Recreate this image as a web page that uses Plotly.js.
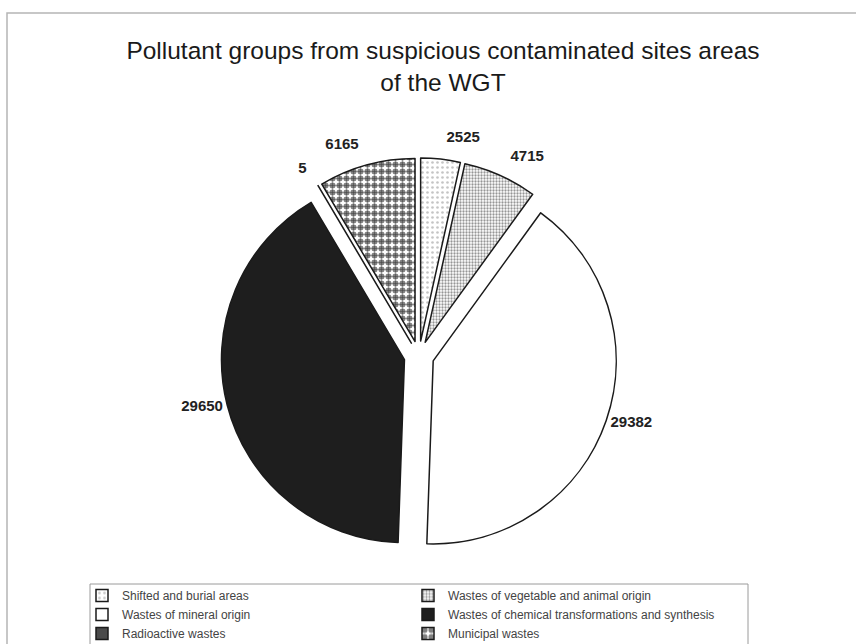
<!DOCTYPE html>
<html>
<head>
<meta charset="utf-8">
<script src="https://cdn.plot.ly/plotly-3.0.1.min.js"></script>
<style>
  html, body { margin: 0; padding: 0; background: #ffffff; overflow: hidden; }
  #chart { width: 856px; height: 680px; }
</style>
</head>
<body>
<div id="chart"></div>
<script>
// Pollutant groups (areas) of suspicious contaminated sites, WGT
const groups = [
  "Shifted and burial areas",
  "Wastes of vegetable and animal origin",
  "Wastes of mineral origin",
  "Wastes of chemical transformations and synthesis",
  "Radioactive wastes",
  "Municipal wastes"
];
const areas = [2525, 4715, 29382, 29650, 5, 6165];

// fill style per group: base colour and hatch pattern
const fillColors   = ["#ffffff", "#ffffff", "#ffffff", "#1e1e1e", "#4a4a4a", "#ffffff"];
const patternShape = [".", ".", "", "", "", "."];
const patternInk   = ["#8a8a8a", "#2e2e2e", "#000000", "#000000", "#000000", "#000000"];
const patternSize  = [5, 3, 8, 8, 8, 7];
const patternFill  = [0.22, 0.45, 0.3, 0.3, 0.3, 0.6];
// thin grid lines running through the dots of the municipal slice
const gridShape    = ["", "", "", "", "", "+"];

// the figure is taller than the window; its lower edge (legend frame) runs off the bottom
const W = 856, H = 680;
const cx = 419, cy = 356, half = 198;   // pie centre and half-size of its domain, px
const slicePull = 0.082;
// value labels of the thin slices sit a little further out than the slice edge
const labelPull = [0.16, 0.16, 0.082, 0.082, 0.16, 0.16];

function domainFor(h) {
  return {
    x: [(cx - h) / W, (cx + h) / W],
    y: [(H - cy - h) / H, (H - cy + h) / H]
  };
}
const radius = half / (1 + slicePull);
const labelHalf = radius * (1 + Math.max(...labelPull));
const font = "Liberation Sans, Arial, sans-serif";

const pie = {
  type: "pie",
  labels: groups,
  values: areas,
  sort: false,
  direction: "clockwise",
  rotation: 0,
  pull: slicePull,
  domain: domainFor(half),
  marker: {
    colors: fillColors,
    line: { color: "#1a1a1a", width: 1.5 },
    pattern: {
      shape: patternShape,
      fgcolor: patternInk,
      size: patternSize,
      solidity: patternFill,
      fillmode: "overlay"
    }
  },
  textinfo: "none",
  automargin: false,
  hoverinfo: "label+value+percent"
};

// same slices again, transparent, carrying only the grid lines
const gridOverlay = {
  type: "pie",
  labels: groups,
  values: areas,
  sort: false,
  direction: "clockwise",
  rotation: 0,
  pull: slicePull,
  domain: domainFor(half),
  showlegend: false,
  marker: {
    colors: groups.map(() => "rgba(0,0,0,0)"),
    line: { color: "rgba(0,0,0,0)", width: 0 },
    pattern: {
      shape: gridShape,
      fgcolor: "#000000",
      bgcolor: "rgba(0,0,0,0)",
      size: 7,
      solidity: 0.14,
      fillmode: "overlay"
    }
  },
  textinfo: "none",
  hoverinfo: "skip"
};

// transparent copy of the same radius that places the value labels
const valueLabels = {
  type: "pie",
  labels: groups,
  values: areas,
  sort: false,
  direction: "clockwise",
  rotation: 0,
  pull: labelPull,
  domain: domainFor(labelHalf),
  showlegend: false,
  marker: {
    colors: groups.map(() => "rgba(0,0,0,0)"),
    line: { color: "rgba(0,0,0,0)", width: 0 }
  },
  texttemplate: "%{value:.0f}",
  textposition: "outside",
  outsidetextfont: { family: font, size: 15, color: "#222222", weight: "bold" },
  automargin: false,
  hoverinfo: "skip"
};

const layout = {
  width: W,
  height: H,
  margin: { l: 0, r: 0, t: 0, b: 0 },
  paper_bgcolor: "#ffffff",
  plot_bgcolor: "#ffffff",
  font: { family: font, color: "#222222" },
  title: {
    text: "Pollutant groups from suspicious contaminated sites areas<br>of the WGT",
    font: { family: font, size: 24.5, color: "#1a1a1a" },
    x: 443 / W,
    xanchor: "center",
    xref: "paper",
    y: 1 - 59 / H,
    yanchor: "top",
    yref: "container"
  },
  showlegend: true,
  legend: {
    orientation: "h",
    x: 82 / W,
    xanchor: "left",
    y: (H - 581) / H,
    yanchor: "top",
    entrywidth: 281,
    entrywidthmode: "pixels",
    borderwidth: 0,
    bgcolor: "rgba(0,0,0,0)",
    font: { family: font, size: 12, color: "#444444" },
    traceorder: "normal",
    itemclick: false
  },
  shapes: [
    {
      // outer frame of the figure
      type: "rect",
      xref: "paper", yref: "paper",
      x0: 7 / W, x1: 1.05,
      y0: -0.05, y1: 1 - 13 / H,
      line: { color: "#b5b5b5", width: 1.5 },
      fillcolor: "rgba(0,0,0,0)",
      layer: "below"
    },
    {
      // frame round the legend
      type: "rect",
      xref: "paper", yref: "paper",
      x0: 90 / W, x1: 748 / W,
      y0: -0.05, y1: 1 - 584 / H,
      line: { color: "#9a9a9a", width: 1 },
      fillcolor: "rgba(0,0,0,0)",
      layer: "below"
    }
  ]
};

Plotly.newPlot("chart", [pie, gridOverlay, valueLabels], layout, { displayModeBar: false, staticPlot: true });
</script>
</body>
</html>
